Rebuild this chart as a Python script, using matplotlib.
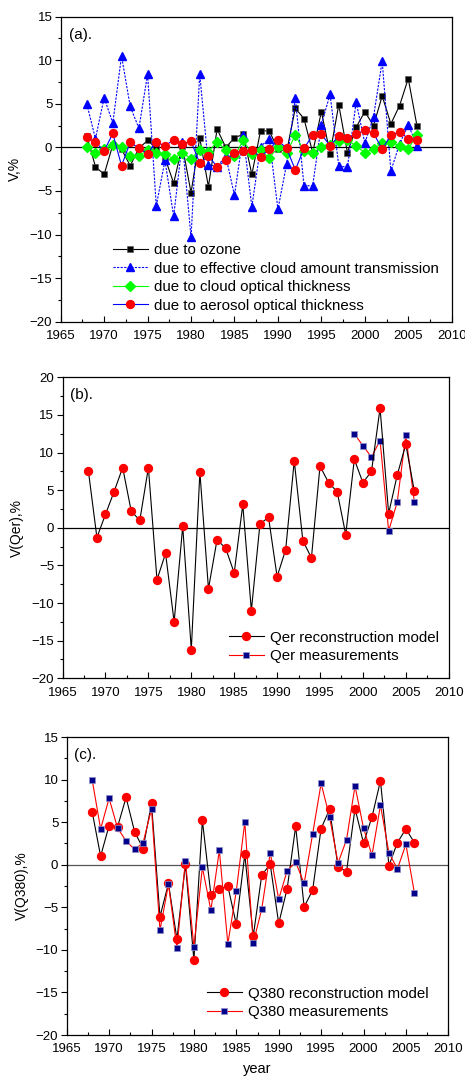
import numpy as np
import matplotlib
matplotlib.use("Agg")
import matplotlib.pyplot as plt
from matplotlib.ticker import MultipleLocator

plt.rcParams['font.family'] = ['Liberation Sans', 'DejaVu Sans']
plt.rcParams['font.size'] = 9.5

years = list(range(1968, 2007))

# panel (a)
ozone = [1.3, -2.2, -3.1, 0.3, -0.2, -2.1, -0.1, 0.8, -0.1, -1.2,
         -4.1, 0.2, -5.2, 1.1, -4.5, 2.1, 0.0, 1.1, 1.5, -3.1,
         1.9, 1.9, -0.2, -0.5, 4.5, 3.3, -0.6, 4.1, -0.7, 4.9,
         -0.6, 2.3, 4.1, 2.5, 5.9, 2.7, 4.8, 7.9, 2.5]
eff_cloud = [5.0, 1.0, 5.7, 2.8, 10.5, 4.7, 2.2, 8.4, -6.7, -1.5,
             -7.9, 0.6, -10.3, 8.4, -2.0, -2.2, -1.0, -5.5, 1.4, -6.8,
             0.1, 1.0, -7.1, -1.9, 5.7, -4.4, -4.4, 2.6, 6.1, -2.1,
             -2.3, 5.2, 0.5, 3.5, 9.9, -2.7, 0.4, 2.6, 0.2]
cloud_ot = [0.1, -0.6, -0.2, 0.3, 0.0, -1.0, -1.0, -0.3, -0.6, -0.8,
            -1.3, -0.6, -1.3, -0.3, -0.5, 0.65, -0.3, -1.0, 0.8, -0.7,
            -0.3, -1.2, 0.0, -0.6, 1.4, -0.4, -0.6, 0.0, 0.3, 0.7,
            0.9, 0.15, -0.6, -0.15, 0.5, 0.6, 0.2, -0.15, 1.4]
aerosol = [1.15, 0.6, -0.4, 1.6, -2.1, 0.6, -0.1, -0.7, 0.65, 0.15,
           0.9, 0.4, 0.7, -1.8, -1.0, -2.2, -1.5, -0.6, -0.4, -0.35,
           -1.1, -0.2, 0.8, -0.1, -2.6, -0.1, 1.4, 1.5, 0.2, 1.3,
           1.1, 1.5, 2.0, 1.65, -0.2, 1.4, 1.8, 1.0, 0.8]

# panel (b)
qer_model = [7.6, -1.3, 1.8, 4.8, 8.0, 2.2, 1.0, 8.0, -6.9, -3.4,
             -12.5, 0.2, -16.2, 7.4, -8.1, -1.6, -2.7, -6.0, 3.1, -11.0,
             0.5, 1.4, -6.5, -2.9, 8.9, -1.7, -4.0, 8.2, 6.0, 4.8,
             -0.9, 9.1, 6.0, 7.5, 15.9, 1.9, 7.0, 11.1, 4.85]
qer_years = list(range(1999, 2007))
qer_meas = [12.5, 10.9, 9.4, 11.6, -0.4, 3.4, 12.3, 3.4]

# panel (c)
q380_model = [6.25, 1.0, 4.6, 4.45, 7.9, 3.9, 1.9, 7.2, -6.1, -2.2,
              -8.75, 0.05, -11.2, 5.2, -3.5, -2.9, -2.5, -7.0, 1.2, -8.4,
              -1.2, 0.05, -6.9, -2.8, 4.5, -4.95, -3.0, 4.25, 6.5, -0.25,
              -0.8, 6.6, 2.55, 5.6, 9.85, -0.1, 2.6, 4.2, 2.6]
q380_meas = [10.0, 4.2, 7.8, 4.3, 2.8, 1.8, 2.55, 6.55, -7.7, -2.3,
             -9.8, 0.45, -9.65, -0.3, -5.35, 1.7, -9.3, -3.1, 5.0, -9.2,
             -5.2, 1.4, -4.05, -0.7, 0.3, -2.2, 3.6, 9.55, 5.6, 0.2,
             2.95, 9.25, 4.3, 1.1, 7.0, 1.4, -0.5, 2.4, -3.3]

W, H = 465, 1082
fig = plt.figure(figsize=(W / 100, H / 100), dpi=100)


def px_axes(left, right, top, bottom):
    return fig.add_axes([left / W, 1 - bottom / H, (right - left) / W, (bottom - top) / H])


def style(ax, ymin, ymax, lab, ylab, labx, zcol='black'):
    ax.set_xlim(1965, 2010)
    ax.set_ylim(ymin, ymax)
    ax.xaxis.set_major_locator(MultipleLocator(5))
    ax.xaxis.set_minor_locator(MultipleLocator(2.5))
    ax.yaxis.set_major_locator(MultipleLocator(5))
    ax.yaxis.set_minor_locator(MultipleLocator(2.5))
    ax.tick_params(axis='x', which='major', direction='in', length=4, width=0.8, pad=6)
    ax.tick_params(axis='x', which='minor', direction='in', length=2, width=0.8)
    ax.tick_params(axis='y', which='major', direction='out', length=4, width=0.8, pad=2)
    ax.tick_params(axis='y', which='minor', direction='out', length=2, width=0.8)
    for s in ax.spines.values():
        s.set_linewidth(0.9)
    ax.axhline(0, color=zcol, lw=0.9, zorder=1)
    ax.text(0.02, 0.94, lab, transform=ax.transAxes, fontsize=11, va='center')
    ax.set_ylabel(ylab, fontsize=10)
    ax.yaxis.set_label_coords(labx, 0.5)


def leg(ax, x, y):
    ax.legend(loc='upper left', bbox_to_anchor=(x, y), frameon=False, fontsize=10.8,
              handlelength=2.3, handletextpad=0.4, labelspacing=0.3, borderaxespad=0,
              borderpad=0)


ms = 5

# (a)
ax1 = px_axes(60.7, 451.7, 16.7, 321.7)
ax1.plot(years, ozone, color='black', lw=0.8, marker='s', ms=ms, mfc='black',
         mec='#555555', mew=0.4, label='due to ozone')
ax1.plot(years, eff_cloud, color='blue', lw=0.8, ls=(0, (2, 1.2)), marker='^', ms=ms + 0.8,
         mfc='blue', mec='blue', label='due to effective cloud amount transmission')
ax1.plot(years, cloud_ot, color='#00ff00', lw=0.8, marker='D', ms=ms - 0.3, mfc='#00ff00',
         mec='#00ff00', label='due to cloud optical thickness')
ax1.plot(years, aerosol, color='blue', lw=0.8, marker='o', ms=ms + 0.7, mfc='red',
         mec='red', label='due to aerosol optical thickness')
style(ax1, -20, 15, '(a).', 'V,%', -0.1)
leg(ax1, 0.134, 0.258)

# (b)
ax2 = px_axes(62.6, 448.7, 377.3, 678.3)
ax2.plot(years, qer_model, color='black', lw=0.8, marker='o', ms=ms + 0.7, mfc='red',
         mec='red', label='Qer reconstruction model', zorder=3)
ax2.plot(qer_years, qer_meas, color='red', lw=0.8, marker='s', ms=ms, mfc='#00008b',
         mec='#9090c8', mew=0.5, label='Qer measurements', zorder=2)
style(ax2, -20, 20, '(b).', 'V(Qer),%', -0.1)
leg(ax2, 0.431, 0.158)

# (c)
ax3 = px_axes(66.7, 448.3, 737.0, 1035.0)
ax3.plot(years, q380_model, color='black', lw=0.8, marker='o', ms=ms + 0.7, mfc='red',
         mec='red', label='Q380 reconstruction model', zorder=2)
ax3.plot(years, q380_meas, color='red', lw=0.8, marker='s', ms=ms, mfc='#00008b',
         mec='#9090c8', mew=0.5, label='Q380 measurements', zorder=3)
style(ax3, -20, 15, '(c).', 'V(Q380),%', -0.1, zcol='#555555')
leg(ax3, 0.368, 0.162)
ax3.set_xlabel('year', fontsize=10.5, labelpad=5)

fig.savefig('out.png', dpi=100)
